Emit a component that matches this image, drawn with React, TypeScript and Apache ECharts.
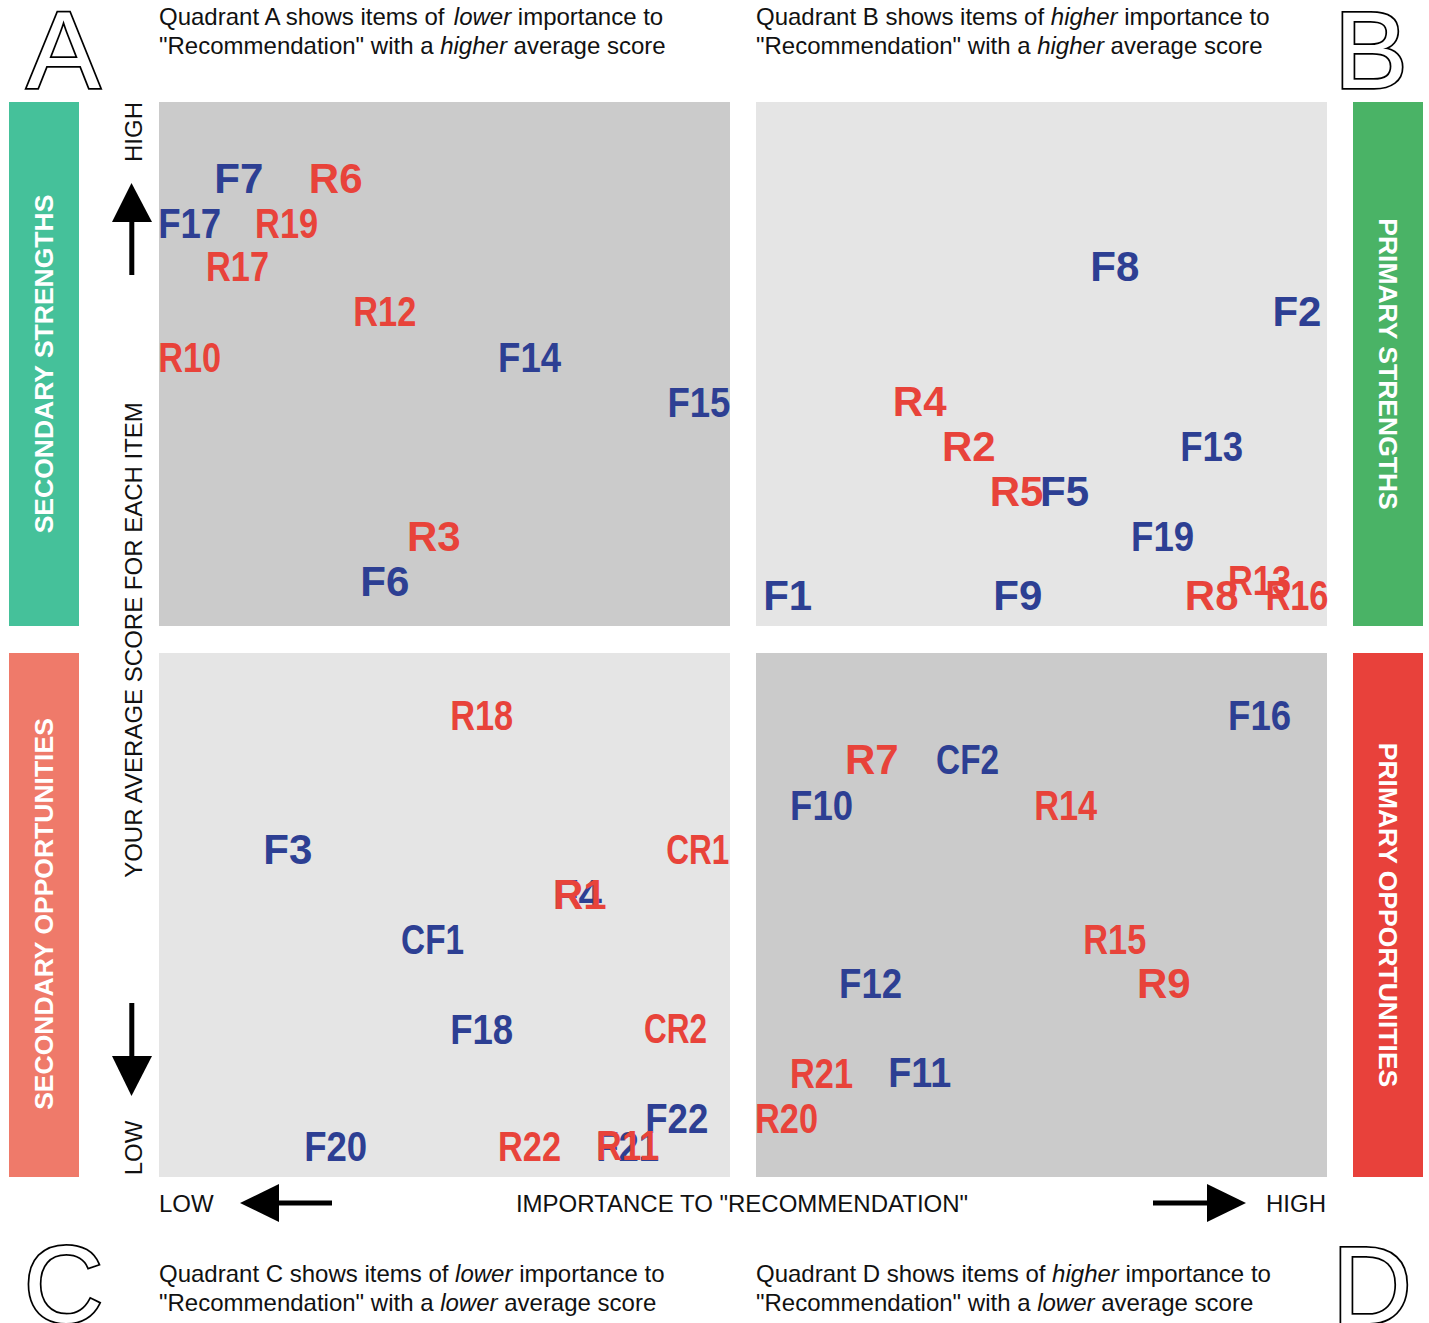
import React, { useEffect, useRef } from "react";
import * as echarts from "echarts";

// ---------- DATA ----------
// x: importance to "Recommendation" (0-100, split at 50)
// y: average score (0-100, split at 50)
const blueLabels = ["F7", "F17", "F14", "F15", "F6", "F8", "F2", "F5", "F13", "F19", "F1", "F9", "F3", "F4", "CF1", "F18", "F22", "F20", "F21", "F16", "CF2", "F10", "F12", "F11"];
const blueX = [4.9, 0.1, 29.2, 43.7, 17.4, 79.9, 95.5, 75.6, 87.6, 83.4, 51.9, 71.6, 9.1, 33.9, 20.9, 25.1, 41.8, 12.6, 37.6, 91.7, 66.7, 54.2, 58.4, 62.6];
const blueY = [92.9, 88.7, 76.3, 72.1, 55.4, 84.7, 80.5, 63.8, 68.0, 59.6, 54.1, 54.1, 30.5, 26.3, 22.1, 13.8, 5.5, 2.9, 2.9, 43.0, 38.8, 34.6, 18.0, 9.7];

const redLabels = ["R6", "R19", "R17", "R12", "R10", "R3", "R4", "R2", "R5", "R8", "R13", "R16", "R18", "CR1", "R1", "CR2", "R22", "R11", "R7", "R14", "R15", "R9", "R21", "R20"];
const redX = [13.0, 8.4, 4.2, 16.8, 0.1, 21.4, 63.0, 67.2, 71.3, 88.0, 91.7, 94.9, 25.1, 43.6, 33.9, 41.7, 29.2, 37.6, 58.9, 75.1, 79.3, 83.9, 54.2, 51.2];
const redY = [92.9, 88.7, 84.7, 80.5, 76.3, 59.6, 72.1, 68.0, 63.8, 54.1, 55.5, 54.1, 43.0, 30.5, 26.3, 13.8, 2.9, 2.9, 38.8, 34.6, 22.1, 18.0, 9.7, 5.5];

const quadrantTexts = {
  A: ["Quadrant A shows items of {i|lower} importance to", "\"Recommendation\" with a {i|higher} average score"],
  B: ["Quadrant B shows items of {i|higher} importance to", "\"Recommendation\" with a {i|higher} average score"],
  C: ["Quadrant C shows items of {i|lower} importance to", "\"Recommendation\" with a {i|lower} average score"],
  D: ["Quadrant D shows items of {i|higher} importance to", "\"Recommendation\" with a {i|lower} average score"],
};
const sideLabels = ["SECONDARY STRENGTHS", "SECONDARY OPPORTUNITIES", "PRIMARY STRENGTHS", "PRIMARY OPPORTUNITIES"];
const axisTexts = { xTitle: "IMPORTANCE TO \"RECOMMENDATION\"", yTitle: "YOUR AVERAGE SCORE FOR EACH ITEM", low: "LOW", high: "HIGH" };

// ---------- STYLE ----------
const FONT = "\"Liberation Sans\", Arial, Helvetica, sans-serif";
const LABEL_FONT = `bold 42px ${FONT}`;
const LABEL_BOX = 63; // labels are squeezed to fit this width
const BLUE = "#2d3f93";
const RED = "#e8433a";
const DARK = "#cbcbcb";
const LIGHT = "#e5e5e5";

let measureCtx: CanvasRenderingContext2D | null = null;
function fitScale(text: string): number {
  if (!measureCtx) {
    const c = document.createElement("canvas");
    measureCtx = c.getContext("2d");
  }
  if (!measureCtx) return 0.85;
  measureCtx.font = LABEL_FONT;
  const w = measureCtx.measureText(text).width;
  return w > LABEL_BOX ? LABEL_BOX / w : 1;
}

function labelSeries(name: string, labels: string[], xs: number[], ys: number[], color: string, z: number) {
  return {
    type: "custom",
    name,
    z,
    silent: true,
    clip: false,
    data: xs.map((x, i) => [x, ys[i]]),
    renderItem: (params: any, api: any) => {
      const p = api.coord([api.value(0), api.value(1)]);
      const text = labels[params.dataIndex];
      return {
        type: "text",
        x: p[0] - 2,
        y: p[1],
        scaleX: fitScale(text),
        style: {
          text,
          fill: color,
          font: LABEL_FONT,
          align: "left",
          verticalAlign: "middle",
        },
      };
    },
  };
}

export default function App() {
  const ref = useRef<HTMLDivElement>(null);
  useEffect(() => {
    if (!ref.current) return;
    const chart = echarts.init(ref.current, undefined, { renderer: "svg" });

    const headerText = (x: number, y: number, s: string) => ({
      type: "text",
      x,
      y,
      z: 1,
      style: {
        text: s,
        font: `24px ${FONT}`,
        fill: "#111",
        align: "left",
        verticalAlign: "middle",
        rich: { i: { fontStyle: "italic", fontSize: 24, fontFamily: FONT, fill: "#111" } },
      },
    });
    const bigLetter = (x: number, y: number, s: string) => ({
      type: "text",
      x,
      y,
      z: 1,
      style: {
        text: s,
        font: `110px ${FONT}`,
        lineHeight: 78,
        fill: "#fff",
        stroke: "#000",
        lineWidth: 3.5,
        align: "center",
        verticalAlign: "middle",
      },
    });
    const plainText = (x: number, y: number, s: string, align: string, rotation = 0) => ({
      type: "text",
      x,
      y,
      rotation,
      z: 1,
      style: { text: s, font: `24px ${FONT}`, fill: "#111", align, verticalAlign: "middle" },
    });
    const sideText = (x: number, y: number, s: string, rotation: number) => ({
      type: "text",
      x,
      y,
      rotation,
      z: 2,
      style: { text: s, font: `bold 26.5px ${FONT}`, fill: "#fff", align: "center", verticalAlign: "middle" },
    });

    const graphics: any[] = [
      // panels
      { type: "rect", z: 0, shape: { x: 159, y: 102, width: 571, height: 524 }, style: { fill: DARK } },
      { type: "rect", z: 0, shape: { x: 756, y: 102, width: 571, height: 524 }, style: { fill: LIGHT } },
      { type: "rect", z: 0, shape: { x: 159, y: 653, width: 571, height: 524 }, style: { fill: LIGHT } },
      { type: "rect", z: 0, shape: { x: 756, y: 653, width: 571, height: 524 }, style: { fill: DARK } },
      // side bars
      { type: "rect", z: 0, shape: { x: 9, y: 102, width: 70, height: 524 }, style: { fill: "#45c19a" } },
      { type: "rect", z: 0, shape: { x: 9, y: 653, width: 70, height: 524 }, style: { fill: "#ef7a6a" } },
      { type: "rect", z: 0, shape: { x: 1353, y: 102, width: 70, height: 524 }, style: { fill: "#4ab366" } },
      { type: "rect", z: 0, shape: { x: 1353, y: 653, width: 70, height: 524 }, style: { fill: "#e8413b" } },
      sideText(44, 364, sideLabels[0], Math.PI / 2),
      sideText(44, 914, sideLabels[1], Math.PI / 2),
      sideText(1388, 364, sideLabels[2], -Math.PI / 2),
      sideText(1388, 915, sideLabels[3], -Math.PI / 2),
      // big letters
      bigLetter(63.5, 49, "A"),
      bigLetter(1371, 49, "B"),
      bigLetter(63.5, 1283, "C"),
      bigLetter(1372, 1284, "D"),
      // quadrant headers
      headerText(159, 16, quadrantTexts.A[0]),
      headerText(159, 45, quadrantTexts.A[1]),
      headerText(756, 16, quadrantTexts.B[0]),
      headerText(756, 45, quadrantTexts.B[1]),
      headerText(159, 1273, quadrantTexts.C[0]),
      headerText(159, 1302, quadrantTexts.C[1]),
      headerText(756, 1273, quadrantTexts.D[0]),
      headerText(756, 1302, quadrantTexts.D[1]),
      // axis texts
      plainText(133, 132, axisTexts.high, "center", Math.PI / 2),
      plainText(133, 1148, axisTexts.low, "center", Math.PI / 2),
      plainText(133, 640, axisTexts.yTitle, "center", Math.PI / 2),
      plainText(159, 1203, axisTexts.low, "left"),
      plainText(742, 1203, axisTexts.xTitle, "center"),
      plainText(1326, 1203, axisTexts.high, "right"),
      // arrows
      { type: "polygon", z: 1, shape: { points: [[131.5, 183], [112, 222], [152, 222]] }, style: { fill: "#000" } },
      { type: "rect", z: 1, shape: { x: 129.3, y: 221, width: 5, height: 54 }, style: { fill: "#000" } },
      { type: "polygon", z: 1, shape: { points: [[131.5, 1096], [112, 1056], [152, 1056]] }, style: { fill: "#000" } },
      { type: "rect", z: 1, shape: { x: 129.3, y: 1003, width: 5, height: 54 }, style: { fill: "#000" } },
      { type: "polygon", z: 1, shape: { points: [[240, 1203], [279, 1184], [279, 1222]] }, style: { fill: "#000" } },
      { type: "rect", z: 1, shape: { x: 278, y: 1200.5, width: 54, height: 5 }, style: { fill: "#000" } },
      { type: "polygon", z: 1, shape: { points: [[1246, 1203], [1207, 1184], [1207, 1222]] }, style: { fill: "#000" } },
      { type: "rect", z: 1, shape: { x: 1153, y: 1200.5, width: 55, height: 5 }, style: { fill: "#000" } },
    ];

    chart.setOption({
      animation: false,
      backgroundColor: "#fff",
      grid: { left: 159, top: 102, right: 102, bottom: 146 },
      xAxis: { type: "value", min: 0, max: 100, show: false },
      yAxis: { type: "value", min: 0, max: 100, show: false },
      graphic: { elements: graphics },
      series: [
        labelSeries("F items", blueLabels, blueX, blueY, BLUE, 10),
        labelSeries("R items", redLabels, redX, redY, RED, 11),
      ],
    });
    return () => chart.dispose();
  }, []);
  return <div ref={ref} style={{ position: "absolute", left: 0, top: 0, width: 1429, height: 1323 }} />;
}
